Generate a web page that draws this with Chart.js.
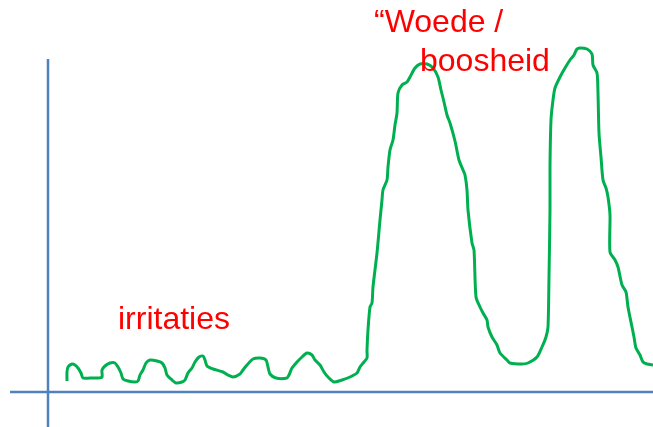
<!DOCTYPE html>
<html>
<head>
<meta charset="utf-8">
<script src="https://cdn.jsdelivr.net/npm/chart.js@4/dist/chart.umd.min.js"></script>
<style>
  html, body { margin: 0; padding: 0; background: #fff; }
  #wrap { width: 653px; height: 427px; position: relative; }
</style>
</head>
<body>
<div id="wrap"><canvas id="c" width="653" height="427"></canvas></div>
<script>
// Time (arbitrary units from the vertical axis) and emotional intensity
const timeValues = [19,19,20,24,27,30,33,35,42,50, 54,54,57,62,67,70,73,75,80,87,
  90,92,95,98,102,109,114,117,119,124, 128,134,137,140,144,147,151,155,157,159,
  165,175,180,185,192,195,199,205,212,218, 220,222,228,239,241,244,249,254,259,264,
  267,272,276,280,286,294,302,309,312,316, 319,319,320,322,324,325,329,332,334,335,
  339,340,342,345,347,349,350,354,359,362, 367,372,379,385,390,393,396,399,402,407,
  411,415,417,419,420,424,426,428,432,435, 439,440,444,449,452,459,462,474,480,489,
  494,498,500,501,502,502,503,505,507,512, 517,522,526,529,532,539,544,545,549,550,
  551,553,555,558,560,562,562,567,570,574, 578,580,584,586,588,592,595,599,605];
const intensityValues = [11,20,25,28,27,24,19,14,14,14, 15,22,26,29,29,25,19,13,11,10,
  11,17,22,29,32,31,29,24,17,12, 9,10,12,19,24,30,35,36,32,26,
  23,20,17,15,18,22,27,33,34,32, 25,18,14,14,17,24,30,35,39,37,
  32,27,20,15,10,12,15,19,25,30, 34,42,62,85,89,105,139,172,192,202,
  212,225,242,252,267,279,299,307,310,315, 324,328,328,324,315,302,290,277,269,251,
  232,222,217,202,182,149,142,95,85,79, 72,65,55,47,39,32,29,28,29,35,
  45,55,65,115,182,225,272,292,304,315, 324,332,337,343,344,343,338,327,319,299,
  259,235,212,204,195,177,140,132,125,107, 100,85,65,55,44,37,30,28,27];
const annotationLabels = ['irritaties', '\u201CWoede /', 'boosheid'];

const points = timeValues.map((t, i) => ({ x: t, y: intensityValues[i] }));

const axesPlugin = {
  id: 'crossAxes',
  beforeDatasetsDraw(chart) {
    const { ctx, chartArea, scales } = chart;
    const x0 = scales.x.getPixelForValue(0);
    const y0 = scales.y.getPixelForValue(0);
    ctx.save();
    ctx.strokeStyle = '#4f81bd';
    ctx.lineWidth = 2.5;
    ctx.beginPath();
    ctx.moveTo(chartArea.left, y0);
    ctx.lineTo(chartArea.right, y0);
    ctx.moveTo(x0, chartArea.top);
    ctx.lineTo(x0, chartArea.bottom);
    ctx.stroke();
    ctx.restore();
  },
  afterDraw(chart) {
    const { ctx, scales } = chart;
    const sx = scales.x, sy = scales.y;
    ctx.save();
    ctx.fillStyle = '#ff0000';
    ctx.font = '32px "Liberation Sans", Arial, sans-serif';
    ctx.textBaseline = 'alphabetic';
    ctx.textAlign = 'left';
    ctx.fillText(annotationLabels[0], sx.getPixelForValue(70), sy.getPixelForValue(63));
    ctx.fillText(annotationLabels[1], sx.getPixelForValue(326), sy.getPixelForValue(360));
    ctx.fillText(annotationLabels[2], sx.getPixelForValue(372), sy.getPixelForValue(321));
    ctx.restore();
  }
};

new Chart(document.getElementById('c'), {
  type: 'line',
  data: {
    datasets: [{
      data: points,
      borderColor: '#00b050',
      borderWidth: 3,
      pointRadius: 0,
      tension: 0.25,
      fill: false,
      clip: false
    }]
  },
  options: {
    responsive: false,
    animation: false,
    layout: { padding: { left: 10, right: 0, top: 59, bottom: 0 } },
    plugins: { legend: { display: false }, tooltip: { enabled: false } },
    scales: {
      x: { type: 'linear', min: -38, max: 605, display: false },
      y: { type: 'linear', min: -35, max: 333, display: false }
    }
  },
  plugins: [axesPlugin]
});
</script>
</body>
</html>
